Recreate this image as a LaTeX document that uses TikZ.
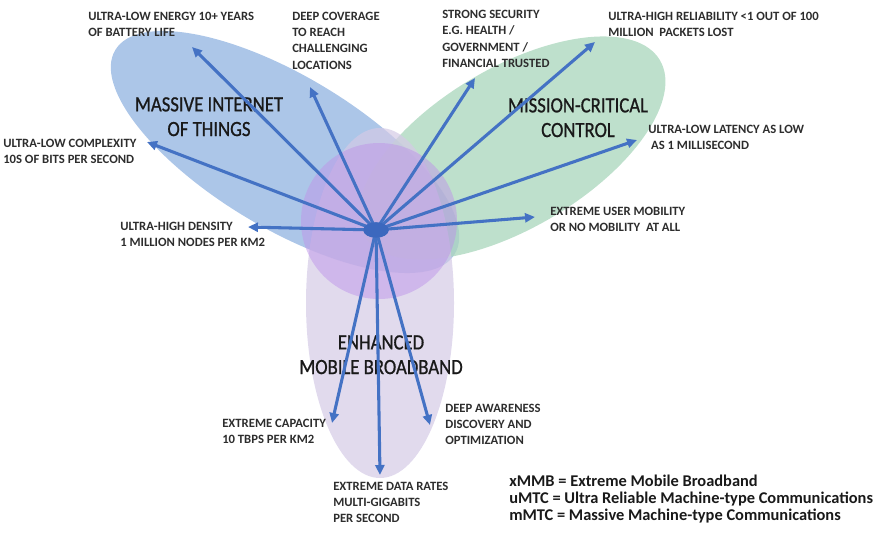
\documentclass[tikz,border=0pt]{standalone}
\usepackage{fontspec}
\setmainfont{Carlito}
\newfontfamily\titlefont[FakeStretch=0.86,FakeBold=0.8]{Carlito}
\usetikzlibrary{arrows.meta,shapes.geometric}

\definecolor{arrowblue}{RGB}{68,114,196}
\definecolor{hubblue}{RGB}{60,104,190}
\definecolor{iotblue}{RGB}{158,188,228}
\definecolor{mcgreen}{RGB}{172,215,190}
\definecolor{bblav}{RGB}{212,202,230}
\definecolor{corepurple}{RGB}{190,148,232}
\definecolor{labelgray}{RGB}{45,45,45}

\tikzset{
  feat/.style={anchor=north west, inner sep=0pt, align=left, text=labelgray,
    font=\fontsize{9.5}{12.3}\selectfont\bfseries},
  area/.style={anchor=north, inner sep=0pt, align=center, text=black!90,
    font=\titlefont\fontsize{16.3}{18.5}\selectfont},
  legend/.style={anchor=north west, inner sep=0pt, align=left, text=black!90,
    font=\fontsize{12.3}{12.8}\selectfont\bfseries},
  spoke/.style={draw=arrowblue, line width=2.3pt,
    -{Triangle[length=7.5pt,width=6.8pt]}},
  hubshape/.style={ellipse, fill=hubblue, minimum width=19pt, minimum height=11.5pt, inner sep=0pt},
}

\begin{document}
\begin{tikzpicture}[x=0.75pt,y=-0.75pt]
\useasboundingbox (0,0) rectangle (880,532);

% usage-scenario areas
\fill[iotblue, opacity=0.85, shift={(285,152)}, rotate=-31] (0,0) ellipse [x radius=198, y radius=76];
\fill[mcgreen, opacity=0.78, shift={(512,148)}, rotate=30.7] (0,0) ellipse [x radius=172, y radius=80];
\fill[bblav, opacity=0.7] (380,303) ellipse [x radius=74, y radius=175];
\fill[corepurple, opacity=0.5] (379,221) circle [radius=78];

% scenario titles
\node[area] (miot) at (209,97) {MASSIVE INTERNET\\OF THINGS};
\node[area] (mcc) at (578,98) {MISSION-CRITICAL\\CONTROL};
\node[area] (embb) at (381,335) {ENHANCED\\MOBILE BROADBAND};

% central hub
\node[hubshape] (hub) at (376,230) {};

% arrow end points
\coordinate (eEnergy) at (192,47);
\coordinate (eCoverage) at (310,87);
\coordinate (eComplexity) at (147,142);
\coordinate (eDensity) at (248,227);
\coordinate (eSecurity) at (475,78);
\coordinate (eReliability) at (595,42);
\coordinate (eLatency) at (637,140);
\coordinate (eMobility) at (535,217);
\coordinate (eCapacity) at (332,423);
\coordinate (eRates) at (380,475);
\coordinate (eAwareness) at (430,425);

\foreach \e in {eEnergy,eCoverage,eComplexity,eDensity,eSecurity,eReliability,eLatency,eMobility,eCapacity,eRates,eAwareness}
  \draw[spoke] (hub.center) -- (\e);

% hub drawn again over the spoke roots
\node[hubshape] at (hub.center) {};

% requirement labels
\node[feat] (tEnergy) at (88,11.5) {ULTRA-LOW ENERGY 10+ YEARS\\OF BATTERY LIFE};
\node[feat] (tCoverage) at (292,11.5) {DEEP COVERAGE\\TO REACH\\CHALLENGING\\LOCATIONS};
\node[feat] (tSecurity) at (442,10) {STRONG SECURITY\\E.G. HEALTH /\\GOVERNMENT /\\FINANCIAL TRUSTED};
\node[feat] (tReliability) at (608,11.5) {ULTRA-HIGH RELIABILITY <1 OUT OF 100\\MILLION\ \ PACKETS LOST};
\node[feat] (tLatency) at (648,125) {ULTRA-LOW LATENCY AS LOW\\\ AS 1 MILLISECOND};
\node[feat] (tMobility) at (550,206.5) {EXTREME USER MOBILITY\\OR NO MOBILITY\ \ AT ALL};
\node[feat] (tComplexity) at (3,138.5) {ULTRA-LOW COMPLEXITY\\10S OF BITS PER SECOND};
\node[feat] (tDensity) at (120,221.5) {ULTRA-HIGH DENSITY\\1 MILLION NODES PER KM2};
\node[feat] (tCapacity) at (222,418.5) {EXTREME CAPACITY\\10 TBPS PER KM2};
\node[feat] (tAwareness) at (445,403.5) {DEEP AWARENESS\\DISCOVERY AND\\OPTIMIZATION};
\node[feat] (tRates) at (333,481.5) {EXTREME DATA RATES\\MULTI-GIGABITS\\PER SECOND};

% abbreviations
\node[legend] (abbr) at (509,475) {xMMB = Extreme Mobile Broadband\\uMTC = Ultra Reliable Machine-type Communications\\mMTC = Massive Machine-type Communications};
\end{tikzpicture}
\end{document}
